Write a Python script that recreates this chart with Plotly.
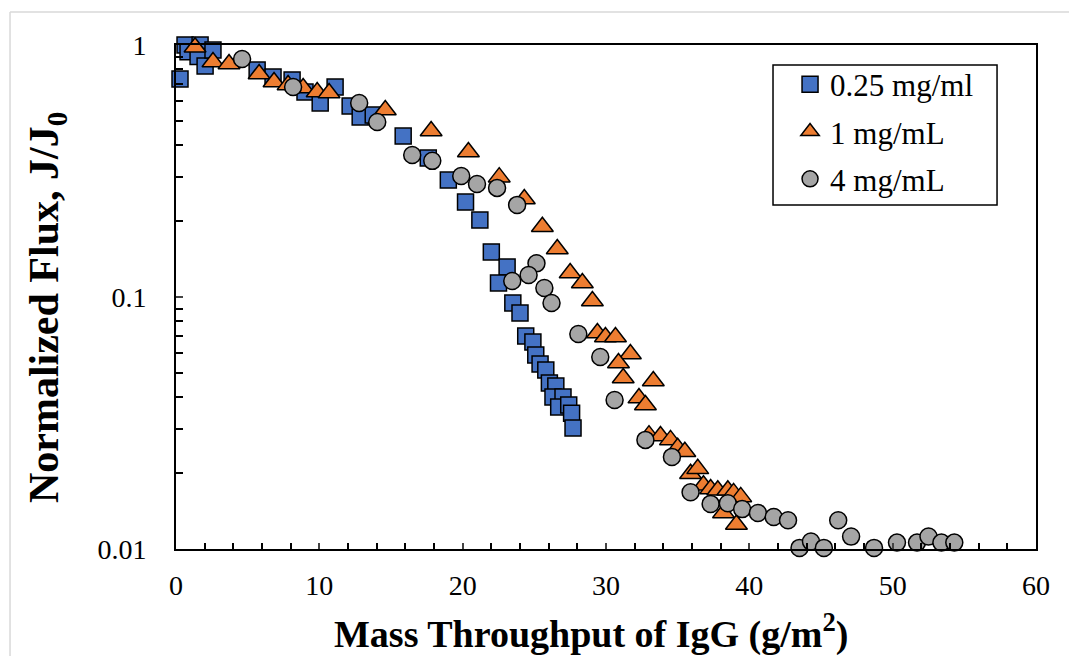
import plotly.graph_objects as go

# 0.25 mg/ml series
x_025 = [0.28, 0.63, 0.84, 1.68, 1.54, 2.03, 2.58, 5.66, 6.77, 8.10, 9.0, 10.06, 11.1, 12.15,
         12.85, 13.76, 15.85, 17.6, 19.0, 20.2, 21.2, 22.0, 23.1, 22.5, 23.5, 24.0, 24.4, 24.9,
         25.1, 25.4, 25.8, 26.05, 26.5, 26.3, 27.0, 26.7, 27.4, 27.6, 27.7]
y_025 = [0.733, 1.0, 0.94, 1.0, 0.90, 0.825, 0.955, 0.796, 0.746, 0.727, 0.651, 0.589, 0.681,
         0.573, 0.518, 0.527, 0.435, 0.356, 0.291, 0.238, 0.202, 0.151, 0.1315, 0.1137, 0.0947,
         0.0864, 0.070, 0.0663, 0.0589, 0.0542, 0.0513, 0.0456, 0.0443, 0.0401, 0.0401, 0.0366,
         0.0373, 0.0346, 0.0302]

# 1 mg/mL series
x_1 = [1.33, 2.58, 3.70, 5.80, 6.84, 7.82, 8.87, 9.85, 10.68, 14.6, 17.8, 20.4, 22.55, 24.3,
       25.56, 26.6, 27.5, 28.35, 29.05, 29.4, 29.96, 30.66, 31.7, 30.87, 31.2, 33.3, 32.3, 32.75,
       33.0, 33.8, 34.5, 35.0, 35.5, 35.9, 36.4, 36.8, 37.3, 37.8, 38.5, 38.9, 39.4, 38.2, 39.1]
y_1 = [0.98, 0.856, 0.84, 0.767, 0.713, 0.694, 0.675, 0.651, 0.645, 0.552, 0.456, 0.376, 0.299,
       0.245, 0.190, 0.155, 0.1245, 0.1137, 0.0964, 0.072, 0.0694, 0.0694, 0.0594, 0.0547, 0.0477,
       0.0464, 0.0397, 0.0373, 0.0283, 0.0281, 0.0271, 0.0252, 0.0243, 0.0199, 0.0208, 0.0179,
       0.0173, 0.0171, 0.0171, 0.0167, 0.0161, 0.0139, 0.0125]

# 4 mg/mL series
x_4 = [4.61, 8.17, 12.78, 14.04, 16.48, 17.88, 19.9, 21.0, 22.4, 23.8, 25.15, 24.6, 23.46, 25.7,
       26.2, 28.07, 29.6, 30.6, 32.75, 34.6, 35.9, 37.3, 38.5, 39.5, 40.6, 41.7, 42.7, 43.5, 44.3,
       45.2, 46.2, 47.1, 48.7, 50.3, 51.7, 52.5, 53.4, 54.3]
y_4 = [0.88, 0.681, 0.589, 0.495, 0.366, 0.347, 0.302, 0.281, 0.271, 0.232, 0.136, 0.1223, 0.1157,
       0.1086, 0.0947, 0.0713, 0.0578, 0.039, 0.0271, 0.0232, 0.0168, 0.0151, 0.0152, 0.0144,
       0.0139, 0.0134, 0.0130, 0.0101, 0.0107, 0.0101, 0.0130, 0.0112, 0.0101, 0.0106, 0.0106,
       0.0112, 0.0106, 0.0106]

names = ["0.25 mg/ml", "1 mg/mL", "4 mg/mL"]
x_ticks = [0, 10, 20, 30, 40, 50, 60]
y_ticks = [0.01, 0.1, 1]
y_tick_text = ["0.01", "0.1", "1"]
x_title = "<b>Mass Throughput of IgG (g/m<sup>2</sup>)</b>"
y_title = "<b>Normalized Flux, J/J<sub>0</sub></b>"

FONT = "Liberation Serif, Times New Roman, serif"

fig = go.Figure()
fig.add_trace(go.Scatter(x=x_025, y=y_025, mode="markers", name=names[0], legendgroup="a",
                         cliponaxis=False,
                         marker=dict(symbol="square", size=16, color="#4472C4",
                                     line=dict(color="black", width=1.5))))
fig.add_trace(go.Scatter(x=x_1, y=y_1, mode="markers", name=names[1], legendgroup="b",
                         cliponaxis=False,
                         marker=dict(symbol="triangle-up", size=19, color="#ED7D31",
                                     line=dict(color="black", width=1.5))))
fig.add_trace(go.Scatter(x=x_4, y=y_4, mode="markers", name=names[2], legendgroup="c",
                         cliponaxis=False,
                         marker=dict(symbol="circle", size=17, color="#A5A5A5",
                                     line=dict(color="black", width=1.5))))

fig.update_layout(
    width=1069, height=656,
    margin=dict(l=176, r=33, t=45, b=107),
    paper_bgcolor="white", plot_bgcolor="white",
    font=dict(family=FONT, color="black", size=28),
    legend=dict(x=0.714, y=0.975, xanchor="left", yanchor="top",
                borderwidth=0, bgcolor="rgba(0,0,0,0)",
                font=dict(family=FONT, size=31, color="black"),
                tracegroupgap=4, itemsizing="trace"),
    shapes=[
        dict(type="line", xref="paper", yref="paper", x0=-0.193, x1=-0.193, y0=-0.3, y1=1.0655,
             line=dict(color="#d9d9d9", width=1.5)),
        dict(type="line", xref="paper", yref="paper", x0=-0.193, x1=1.1, y0=1.0655, y1=1.0655,
             line=dict(color="#d9d9d9", width=1.5)),
        dict(type="rect", xref="paper", yref="paper", x0=0.6942, x1=0.9547, y0=0.6825, y1=0.9603,
             line=dict(color="black", width=1.5), fillcolor="white", layer="above"),
    ],
    annotations=[
        dict(text=x_title, xref="paper", yref="paper", x=0.4826, y=-0.163,
             xanchor="center", yanchor="middle", showarrow=False,
             font=dict(family=FONT, size=38, color="black")),
        dict(text=y_title, xref="paper", yref="paper", x=-0.15, y=0.48, textangle=-90,
             xanchor="center", yanchor="middle", showarrow=False,
             font=dict(family=FONT, size=42, color="black")),
    ],
)

fig.update_xaxes(
    range=[0, 60], tickvals=x_ticks, ticks="inside", ticklen=6, tickwidth=1.5,
    showline=True, linecolor="black", linewidth=2, mirror=True, showgrid=False, zeroline=False,
    tickfont=dict(family=FONT, size=28), ticklabelstandoff=10,
    minor=dict(dtick=2, ticks="inside", ticklen=6, tickwidth=1.5, tickcolor="black", showgrid=False),
)
fig.update_yaxes(
    type="log", range=[-2, 0], tickvals=y_ticks, ticktext=y_tick_text,
    ticks="inside", ticklen=7, tickwidth=1.5,
    showline=True, linecolor="black", linewidth=2, mirror=True, showgrid=False, zeroline=False,
    tickfont=dict(family=FONT, size=28), ticklabelstandoff=22,
    minor=dict(dtick="D1", ticks="inside", ticklen=7, tickwidth=1.5, tickcolor="black", showgrid=False),
)

fig.write_html("out.html")
